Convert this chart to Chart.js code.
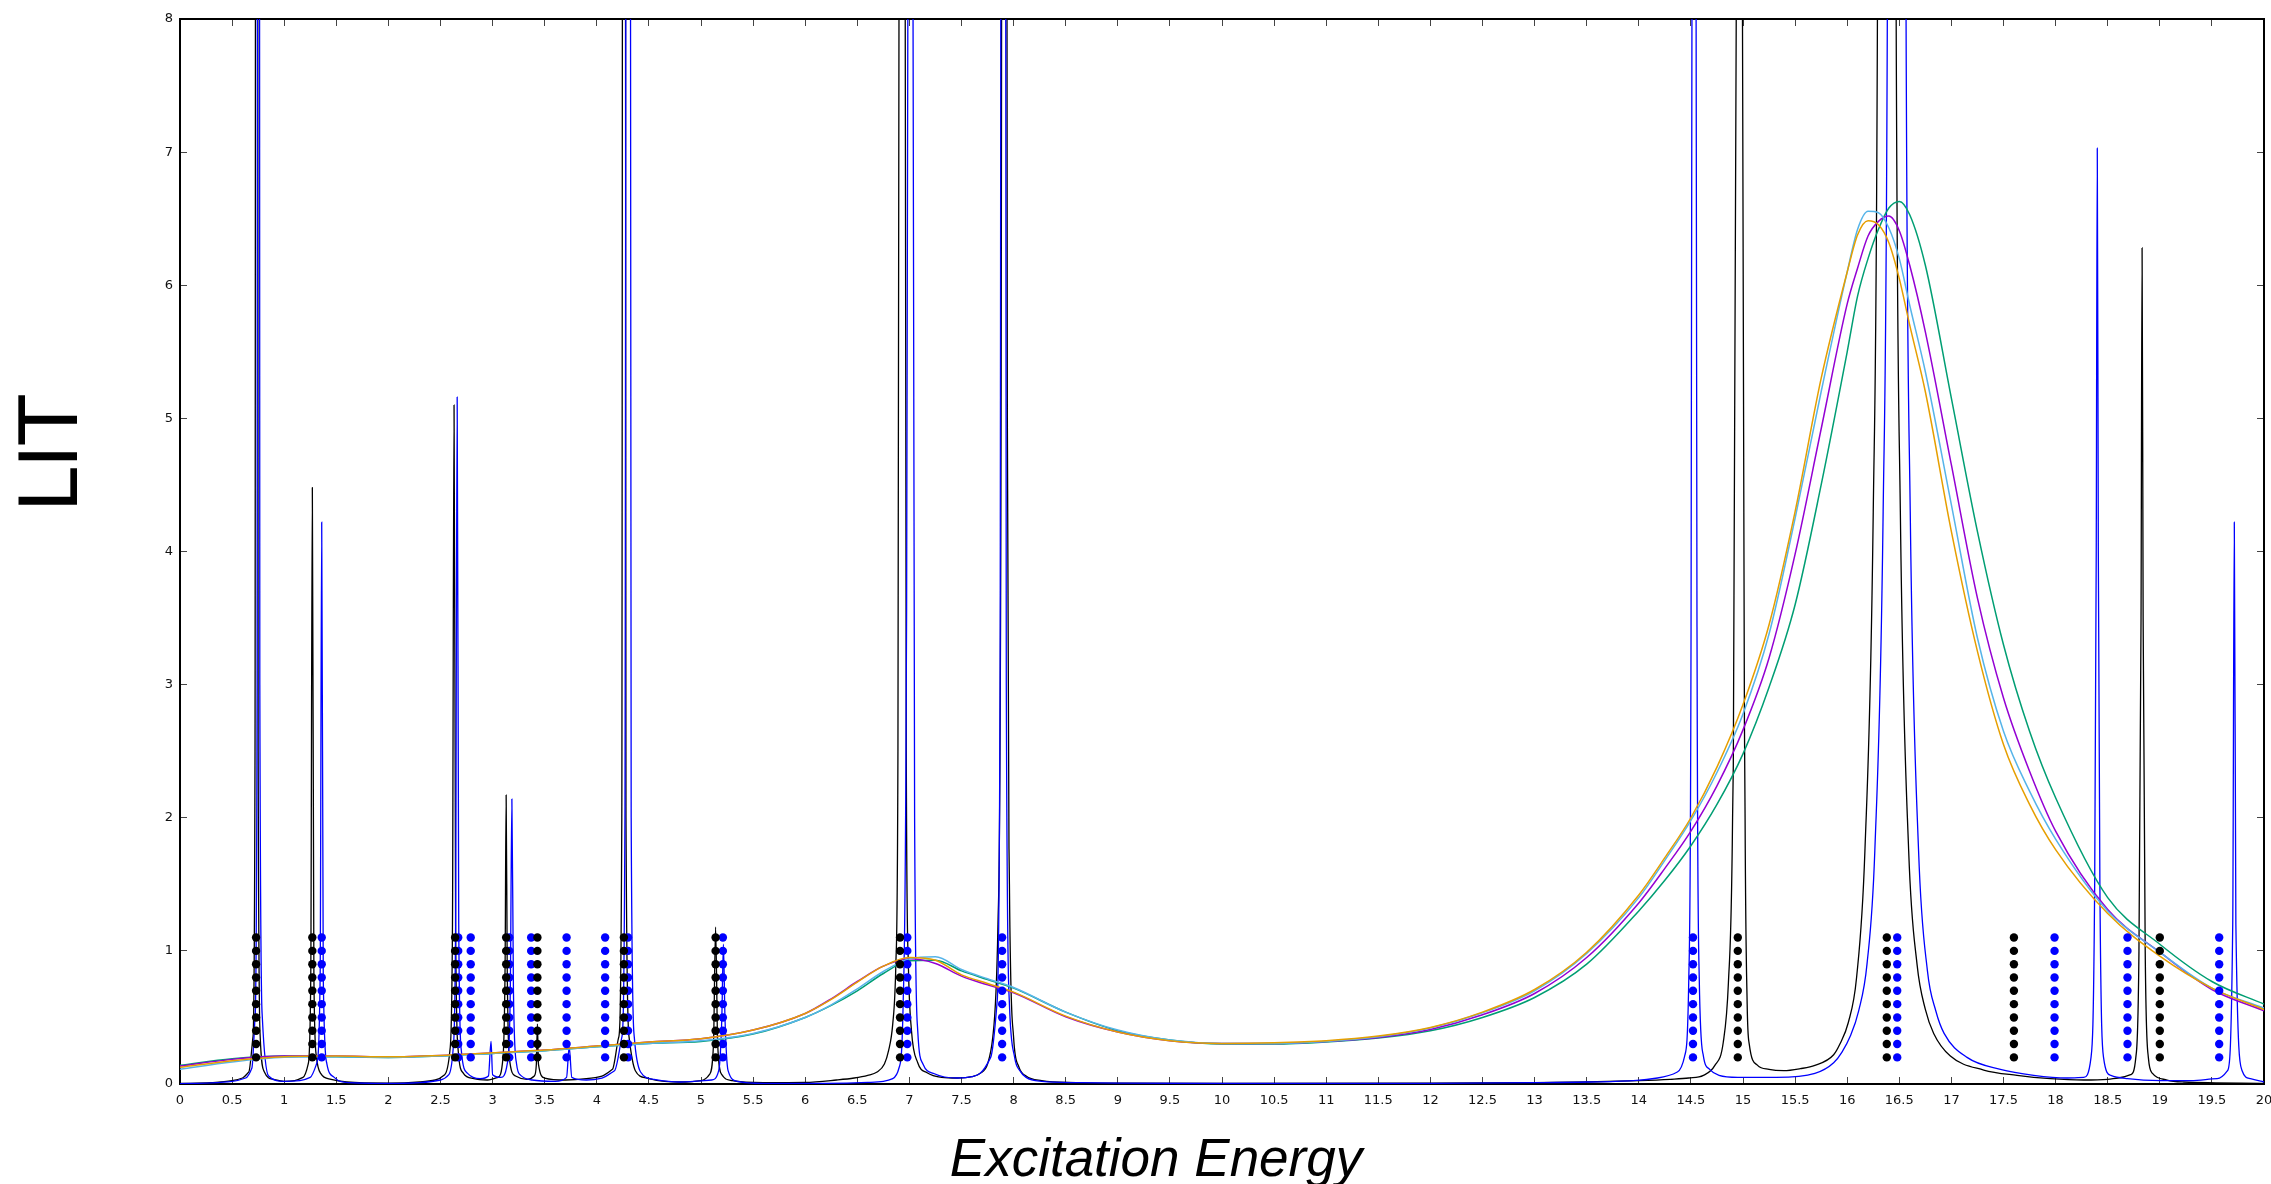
<!DOCTYPE html>
<html>
<head>
<meta charset="utf-8">
<title>LIT</title>
<script src="https://cdn.jsdelivr.net/npm/chart.js@4.4.1/dist/chart.umd.min.js"></script>
<style>
  html, body { margin: 0; padding: 0; background: #fff; }
  canvas { display: block; }
</style>
</head>
<body>
<canvas id="lit" width="2271" height="1184"></canvas>
<script>
// black and blue spectra: [energy, LIT]
const blackSpectrum = [
  [0, 0.004], [0.3, 0.01], [0.5, 0.025], [0.6, 0.045], [0.66, 0.09], [0.7, 0.35], [0.72, 2.5],
  [0.735, 30], [0.75, 2.5], [0.77, 0.35], [0.81, 0.09], [0.9, 0.035], [1.0, 0.02], [1.1, 0.025],
  [1.18, 0.05], [1.23, 0.15], [1.255, 0.8], [1.27, 4.48], [1.285, 0.8], [1.31, 0.2], [1.35, 0.08],
  [1.45, 0.035], [1.6, 0.015], [2.0, 0.006], [2.3, 0.015], [2.45, 0.03], [2.54, 0.07], [2.59, 0.25],
  [2.615, 1.2], [2.63, 5.1], [2.645, 1.2], [2.67, 0.25], [2.72, 0.08], [2.82, 0.04], [2.95, 0.03],
  [3.05, 0.05], [3.1, 0.2], [3.12, 0.9], [3.13, 2.17], [3.14, 0.9], [3.16, 0.2], [3.22, 0.06],
  [3.33, 0.035], [3.4, 0.06], [3.42, 0.15], [3.43, 0.45], [3.44, 0.15], [3.5, 0.045], [3.7, 0.03],
  [3.9, 0.04], [4.05, 0.06], [4.15, 0.11], [4.21, 0.35], [4.24, 2.0], [4.26, 30], [4.28, 2.0],
  [4.31, 0.35], [4.37, 0.1], [4.48, 0.045], [4.65, 0.02], [4.85, 0.015], [5.0, 0.025], [5.08, 0.07],
  [5.12, 0.3], [5.14, 1.18], [5.16, 0.3], [5.2, 0.07], [5.3, 0.025], [5.6, 0.01], [6.0, 0.012],
  [6.3, 0.03], [6.47, 0.045], [6.6, 0.065], [6.69, 0.09], [6.76, 0.15], [6.8, 0.25], [6.84, 0.45],
  [6.87, 0.9], [6.89, 2.5], [6.9, 8], [6.93, 40], [6.96, 8], [6.97, 2.5], [6.99, 0.9], [7.02, 0.4],
  [7.08, 0.16], [7.17, 0.085], [7.31, 0.05], [7.46, 0.045], [7.6, 0.055], [7.68, 0.08], [7.75, 0.15],
  [7.8, 0.35], [7.85, 1.2], [7.88, 5], [7.91, 30], [7.94, 5], [7.96, 1.5], [8.0, 0.35], [8.05, 0.13],
  [8.12, 0.06], [8.27, 0.025], [8.6, 0.01], [9.0, 0.006], [10, 0.004], [12, 0.006], [13, 0.01],
  [13.5, 0.015], [14, 0.025], [14.3, 0.035], [14.48, 0.045], [14.62, 0.065], [14.73, 0.14],
  [14.81, 0.31], [14.86, 0.76], [14.9, 2.0], [14.935, 8], [14.965, 40], [14.995, 8], [15.02, 2.0],
  [15.04, 0.6], [15.06, 0.3], [15.14, 0.14], [15.25, 0.11], [15.39, 0.1], [15.55, 0.115],
  [15.69, 0.14], [15.87, 0.22], [15.93, 0.3], [16.01, 0.46], [16.09, 0.8], [16.17, 1.75], [16.25, 4.3],
  [16.29, 8], [16.38, 40], [16.47, 8], [16.51, 4.3], [16.59, 1.75], [16.67, 0.9], [16.75, 0.56],
  [16.83, 0.38], [16.99, 0.21], [17.31, 0.105], [17.63, 0.065], [17.95, 0.04], [18.27, 0.03], [18.5, 0.035],
  [18.6, 0.045], [18.72, 0.07], [18.77, 0.2], [18.8, 1.0], [18.82, 3.5], [18.83, 6.28], [18.84, 3.5],
  [18.86, 1.0], [18.89, 0.2], [18.93, 0.08], [19.07, 0.03], [19.23, 0.015], [20, 0.005]
];

const blueSpectrum = [
  [0, 0.003], [0.3, 0.008], [0.5, 0.02], [0.63, 0.045], [0.69, 0.12], [0.72, 0.5], [0.74, 3.0],
  [0.753, 30], [0.766, 3.0], [0.79, 0.5], [0.85, 0.06], [1.0, 0.02], [1.15, 0.025], [1.25, 0.05],
  [1.31, 0.15], [1.345, 0.8], [1.36, 4.22], [1.375, 0.8], [1.41, 0.15], [1.48, 0.05], [1.62, 0.01],
  [2.0, 0.004], [2.3, 0.01], [2.5, 0.03], [2.58, 0.07], [2.62, 0.25], [2.645, 1.2], [2.66, 5.16],
  [2.675, 1.2], [2.7, 0.25], [2.76, 0.08], [2.88, 0.04], [2.96, 0.06], [2.985, 0.32], [3.0, 0.07],
  [3.08, 0.05], [3.14, 0.15], [3.17, 0.7], [3.185, 2.14], [3.2, 0.7], [3.23, 0.15], [3.27, 0.065],
  [3.38, 0.03], [3.6, 0.02], [3.71, 0.05], [3.735, 0.28], [3.76, 0.05], [3.9, 0.03], [4.05, 0.045],
  [4.17, 0.1], [4.24, 0.35], [4.27, 2.0], [4.3, 30], [4.33, 2.0], [4.36, 0.35], [4.42, 0.09],
  [4.55, 0.035], [4.8, 0.015], [5.1, 0.03], [5.17, 0.1], [5.2, 0.5], [5.215, 1.05], [5.23, 0.5],
  [5.26, 0.1], [5.35, 0.02], [5.6, 0.005], [6.2, 0.005], [6.6, 0.012], [6.75, 0.02], [6.84, 0.04],
  [6.9, 0.12], [6.94, 0.6], [6.97, 3.0], [6.985, 8], [7.01, 40], [7.035, 8], [7.05, 2.0], [7.08, 0.4],
  [7.13, 0.15], [7.24, 0.077], [7.46, 0.045], [7.6, 0.055], [7.68, 0.08], [7.78, 0.2], [7.84, 0.6],
  [7.87, 3], [7.9, 30], [7.93, 3], [7.96, 0.6], [8.01, 0.2], [8.06, 0.1], [8.12, 0.05], [8.27, 0.02],
  [8.63, 0.01], [9.0, 0.006], [10, 0.004], [12, 0.005], [13, 0.01], [13.5, 0.015], [13.98, 0.027],
  [14.18, 0.045], [14.37, 0.09], [14.44, 0.21], [14.48, 0.8], [14.5, 3.0], [14.51, 8], [14.53, 40],
  [14.55, 8], [14.56, 3.0], [14.58, 0.8], [14.62, 0.21], [14.68, 0.11], [14.77, 0.065], [14.95, 0.05],
  [15.32, 0.05], [15.69, 0.08], [15.87, 0.16], [15.95, 0.24], [16.03, 0.36], [16.11, 0.55], [16.19, 0.9],
  [16.265, 1.75], [16.345, 4.3], [16.385, 8], [16.475, 40], [16.565, 8], [16.605, 4.3], [16.685, 1.75],
  [16.77, 0.85], [16.85, 0.55], [16.93, 0.38], [17.15, 0.2], [17.47, 0.11], [17.79, 0.065],
  [18.11, 0.045], [18.27, 0.05], [18.34, 0.2], [18.375, 1.5], [18.39, 4.0], [18.4, 7.03], [18.41, 4.0],
  [18.425, 1.5], [18.46, 0.2], [18.53, 0.065], [18.69, 0.04], [19.01, 0.025], [19.3, 0.025],
  [19.55, 0.04], [19.65, 0.1], [19.7, 1.2], [19.715, 4.22], [19.73, 1.2], [19.79, 0.1], [19.87, 0.04],
  [20, 0.015]
];

// broad curves, all on one energy grid
const broadE = [0, 0.5, 1, 1.5, 2, 2.5, 3, 3.5, 4, 4.5, 5, 5.5, 6, 6.25, 6.5, 6.75, 7, 7.25, 7.5, 7.75, 8,
  8.5, 9, 9.5, 10, 10.5, 11, 11.5, 12, 12.5, 13, 13.5, 14, 14.25, 14.5, 14.75, 15, 15.25, 15.5, 15.75, 16,
  16.1, 16.2, 16.3, 16.4, 16.5, 16.6, 16.75, 17, 17.25, 17.5, 17.75, 18, 18.5, 19, 19.5, 20];

const orangeLIT = [0.125, 0.175, 0.205, 0.21, 0.205, 0.215, 0.235, 0.255, 0.285, 0.315, 0.34, 0.405, 0.53,
  0.635, 0.765, 0.885, 0.95, 0.93, 0.82, 0.755, 0.69,
  0.51, 0.39, 0.325, 0.305, 0.31, 0.325, 0.36, 0.425, 0.54, 0.71, 0.99, 1.42,
  1.7, 2.0, 2.38, 2.85, 3.45, 4.3, 5.3, 6.1,
  6.38, 6.485, 6.455, 6.32, 6.05, 5.7,
  5.2, 4.15, 3.25, 2.55, 2.1, 1.76,
  1.28, 0.96, 0.72, 0.56];

const purpleLIT = [0.135, 0.185, 0.21, 0.21, 0.205, 0.215, 0.235, 0.255, 0.285, 0.315, 0.34, 0.405, 0.53,
  0.64, 0.77, 0.885, 0.94, 0.905, 0.81, 0.745, 0.685,
  0.505, 0.39, 0.325, 0.305, 0.305, 0.32, 0.35, 0.41, 0.52, 0.68, 0.95, 1.36,
  1.62, 1.9, 2.24, 2.66, 3.2, 3.98, 4.92, 5.86,
  6.13, 6.37, 6.48, 6.52, 6.41, 6.15,
  5.65, 4.65, 3.65, 2.9, 2.35, 1.9,
  1.31, 0.99, 0.71, 0.55];

const skyLIT = [0.11, 0.165, 0.2, 0.205, 0.2, 0.21, 0.23, 0.25, 0.28, 0.305, 0.325, 0.38, 0.5,
  0.595, 0.715, 0.845, 0.94, 0.955, 0.86, 0.79, 0.725,
  0.54, 0.405, 0.33, 0.305, 0.305, 0.32, 0.355, 0.42, 0.535, 0.7, 0.98, 1.4,
  1.68, 1.98, 2.34, 2.78, 3.38, 4.25, 5.2, 6.1,
  6.42, 6.555, 6.545, 6.43, 6.2, 5.85,
  5.35, 4.35, 3.35, 2.65, 2.2, 1.84,
  1.3, 0.99, 0.72, 0.57];

const greenLIT = [0.14, 0.19, 0.21, 0.205, 0.2, 0.21, 0.23, 0.25, 0.28, 0.305, 0.32, 0.375, 0.5,
  0.59, 0.7, 0.83, 0.925, 0.93, 0.85, 0.785, 0.72,
  0.54, 0.4, 0.33, 0.3, 0.3, 0.315, 0.345, 0.4, 0.5, 0.65, 0.9, 1.3,
  1.53, 1.79, 2.1, 2.48, 2.98, 3.6, 4.5, 5.5,
  5.92, 6.2, 6.42, 6.58, 6.63, 6.53,
  6.15, 5.15, 4.15, 3.3, 2.65, 2.15,
  1.4, 1.05, 0.77, 0.6];

// state energies marked by columns of dots
const blackStates = [0.73, 1.27, 2.64, 3.13, 3.43, 4.26, 5.14, 6.91, 14.95, 16.38, 17.6, 19.0];
const blueStates = [1.36, 2.67, 2.79, 3.16, 3.37, 3.71, 4.08, 4.3, 5.21, 6.98, 7.89, 14.52, 16.48, 17.99, 18.69, 19.57];
const dotLevels = [0.2, 0.3, 0.4, 0.5, 0.6, 0.7, 0.8, 0.9, 1.0, 1.1];

const xTicksStep = 0.5;
const yTicksStep = 1;

function toPoints(pairs) {
  return pairs.map(p => ({ x: p[0], y: p[1] }));
}

function onGrid(xs, ys) {
  return xs.map((x, i) => ({ x: x, y: ys[i] }));
}

function dotColumns(states) {
  const pts = [];
  states.forEach(e => dotLevels.forEach(l => pts.push({ x: e, y: l })));
  return pts;
}

function curve(data, color, width, order) {
  return {
    data: data,
    borderColor: color,
    borderWidth: width,
    pointRadius: 0,
    fill: false,
    cubicInterpolationMode: 'monotone',
    order: order
  };
}

function dots(data, color) {
  return {
    data: data,
    showLine: false,
    pointRadius: 4.2,
    pointBackgroundColor: color,
    pointBorderWidth: 0,
    order: 0
  };
}

const tickFont = { family: 'DejaVu Sans', size: 13 };

// fixed box sizes so the plot frame lands where it should; no extra label padding
function fixSize(prop, size) {
  return s => {
    s[prop] = size;
    s.paddingLeft = 0;
    s.paddingRight = 0;
    s.paddingTop = 0;
    s.paddingBottom = 0;
  };
}

// inward tick marks on all four sides, like a framed plot
function framedAxis(extra) {
  return Object.assign({
    type: 'linear',
    border: { display: true, color: '#000', width: 2 },
    grid: { display: true, drawOnChartArea: false, drawTicks: true, tickLength: -7, color: '#444', lineWidth: 1 }
  }, extra);
}

const axisTitles = {
  id: 'axisTitles',
  afterDraw(chart) {
    const ctx = chart.ctx;
    ctx.save();
    ctx.fillStyle = '#000';
    ctx.textAlign = 'center';
    ctx.textBaseline = 'alphabetic';

    ctx.save();
    ctx.font = '80px "DejaVu Sans"';
    ctx.translate(77, 454);
    ctx.rotate(-Math.PI / 2);
    ctx.fillText('LIT', 0, 0);
    ctx.restore();

    ctx.font = 'italic 53px "Liberation Sans"';
    ctx.fillText('Excitation Energy', 1156, 1176);
    ctx.restore();
  }
};

new Chart(document.getElementById('lit'), {
  type: 'line',
  data: {
    datasets: [
      dots(dotColumns(blackStates), '#000000'),
      dots(dotColumns(blueStates), '#0000ff'),
      curve(onGrid(broadE, orangeLIT), '#e69f00', 1.5, 1),
      curve(onGrid(broadE, skyLIT), '#56b4e9', 1.5, 2),
      curve(onGrid(broadE, purpleLIT), '#9400d3', 1.5, 3),
      curve(onGrid(broadE, greenLIT), '#009e73', 1.5, 4),
      curve(toPoints(blueSpectrum), '#0000ff', 1.3, 5),
      curve(toPoints(blackSpectrum), '#000000', 1.3, 6)
    ]
  },
  options: {
    responsive: false,
    animation: false,
    events: [],
    layout: { padding: 0 },
    plugins: {
      legend: { display: false },
      tooltip: { enabled: false }
    },
    scales: {
      x: framedAxis({
        position: 'bottom',
        min: 0, max: 20,
        ticks: {
          stepSize: xTicksStep, autoSkip: false, maxRotation: 0, minRotation: 0,
          padding: 16, color: '#111', font: tickFont,
          callback: v => String(v)
        },
        afterFit: fixSize('height', 100)
      }),
      x2: framedAxis({
        position: 'top',
        min: 0, max: 20,
        ticks: { stepSize: xTicksStep, display: false, autoSkip: false },
        afterFit: fixSize('height', 19)
      }),
      y: framedAxis({
        position: 'left',
        min: 0, max: 8,
        ticks: { stepSize: yTicksStep, padding: 14, color: '#111', font: tickFont },
        afterFit: fixSize('width', 180)
      }),
      y2: framedAxis({
        position: 'right',
        min: 0, max: 8,
        ticks: { stepSize: yTicksStep, display: false },
        afterFit: fixSize('width', 7)
      })
    }
  },
  plugins: [axisTitles]
});
</script>
</body>
</html>
